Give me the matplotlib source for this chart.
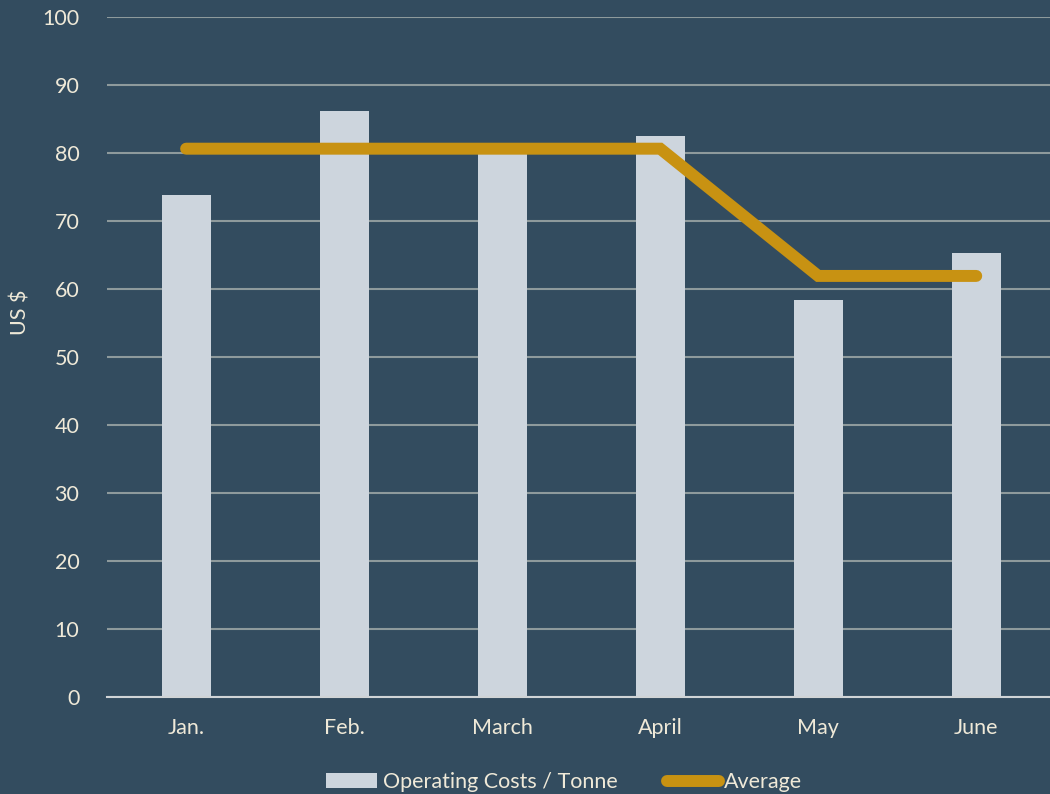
import matplotlib.pyplot as plt
import numpy as np

months = ['Jan.', 'Feb.', 'March', 'April', 'May', 'June']
costs = [73.8, 86.1, 80.3, 82.5, 58.4, 65.3]
average = [80.6, 80.6, 80.6, 80.6, 61.9, 61.9]
yticks = list(range(0, 101, 10))

bg = '#334c5f'
txt = '#efe9d8'
plt.rcParams['font.family'] = ['Lato', 'DejaVu Sans']

fig = plt.figure(figsize=(10.5, 7.94), dpi=100, facecolor=bg)
# plot area runs off the right edge, like the original export
ax = fig.add_axes([0.102, 0.122, 0.903, 0.857], facecolor=bg)

x = np.arange(len(months))
bars = ax.bar(x, costs, width=0.31, color='#cdd5dd', label='Operating Costs / Tonne', zorder=2)
line, = ax.plot(x, average, color='#c89212', lw=8.6, solid_capstyle='round',
                solid_joinstyle='miter', label='Average', zorder=3)

ax.set_ylim(0, 100)
ax.set_xlim(-0.5, len(months) - 0.5)
ax.set_yticks(yticks)
ax.set_xticks(x)
ax.set_xticklabels(months)
ax.grid(axis='y', color='#8e9a9c', lw=1.5, zorder=0)
ax.tick_params(colors=txt, labelcolor=txt, labelsize=15.5, length=0)
ax.tick_params(axis='x', pad=15)
ax.tick_params(axis='y', pad=20)
for s in ['top', 'right', 'left']:
    ax.spines[s].set_visible(False)
ax.spines['bottom'].set_color('#d0d4d6')
ax.spines['bottom'].set_linewidth(1.5)
ax.set_ylabel('US $', color=txt, fontsize=15.5)
ax.yaxis.set_label_coords(-0.081, 0.565)

fig.legend([bars, line], ['Operating Costs / Tonne', 'Average'],
           loc='lower center', bbox_to_anchor=(0.537, -0.022), ncol=2, frameon=False,
           fontsize=15.5, labelcolor=txt, handlelength=2.4, handleheight=0.65,
           handletextpad=0.25, columnspacing=2.3)

fig.savefig('out.png', dpi=100, facecolor=bg)
